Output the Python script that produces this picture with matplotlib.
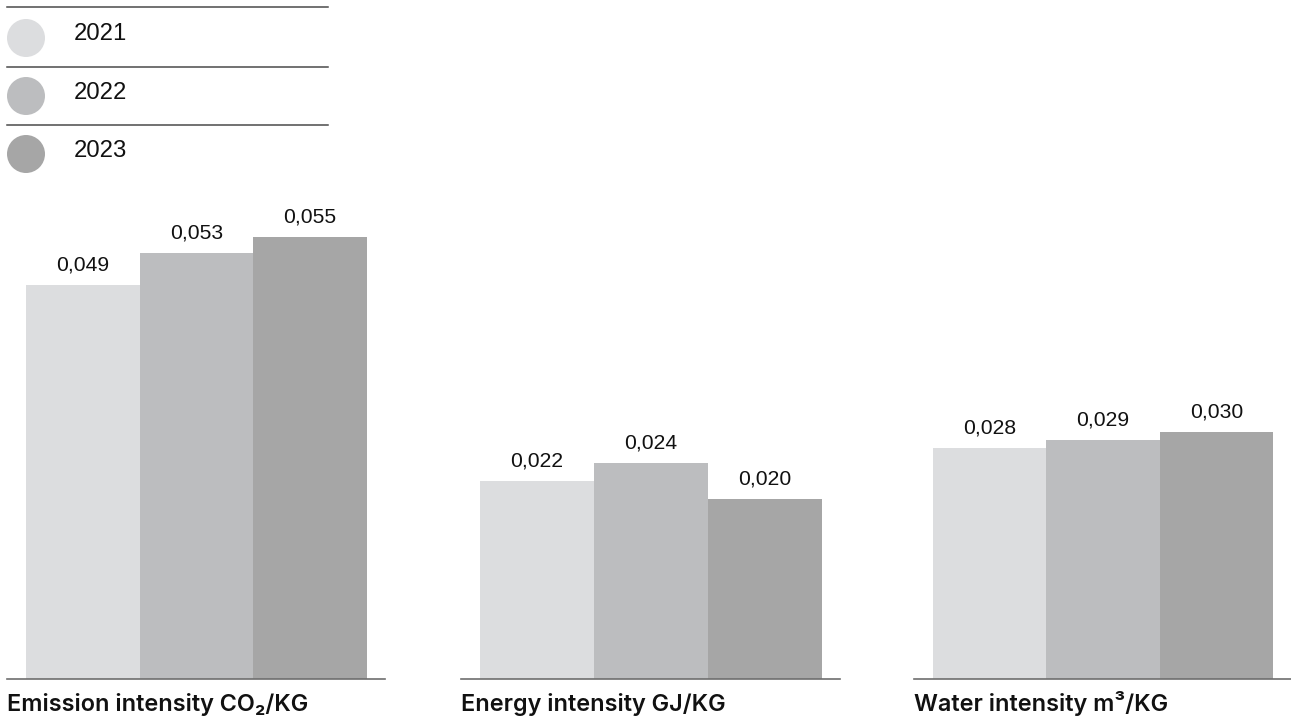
import matplotlib.pyplot as plt
from matplotlib.patches import Circle

# data
years = ["2021", "2022", "2023"]
metrics = ["Emission intensity CO\u2082/KG", "Energy intensity GJ/KG", "Water intensity m\u00b3/KG"]
emission = [0.049, 0.053, 0.055]
energy = [0.022, 0.024, 0.020]
water = [0.028, 0.029, 0.030]
labels = [["0,049", "0,053", "0,055"], ["0,022", "0,024", "0,020"], ["0,028", "0,029", "0,030"]]

colors = ["#dcdddf", "#bcbdbf", "#a6a6a6"]
line_col = "#6e6e6e"
FONT = ["Liberation Sans", "DejaVu Sans"]
TFONT = ["Inter", "DejaVu Sans"]

W, H = 1291, 718
fig = plt.figure(figsize=(W / 100, H / 100), dpi=100)

# panel placement in pixels: left, width, ymax
panels = [(7, 378, 0.0608), (461, 379, 0.0543), (914, 377, 0.0594)]
series = [emission, energy, water]
bottom_px, top_px = 679, 190

for (left, width, ymax), vals, labs, title in zip(panels, series, labels, metrics):
    ax = fig.add_axes([left / W, (H - bottom_px) / H, width / W, (bottom_px - top_px) / H])
    x = range(len(vals))
    ax.bar(x, vals, width=1.0, color=colors, linewidth=0)
    ax.set_xlim(-0.5 - 19 / 113.5, 2.5 + 18 / 113.5)
    ax.set_ylim(0, ymax)
    for s in ["left", "right", "top"]:
        ax.spines[s].set_visible(False)
    ax.spines["bottom"].set_color(line_col)
    ax.spines["bottom"].set_linewidth(1.2)
    ax.set_xticks([])
    ax.set_yticks([])
    ax.patch.set_alpha(0)
    for xi, v, lab in zip(x, vals, labs):
        ax.annotate(lab, (xi, v), xytext=(0, 10.5), textcoords="offset points",
                    ha="center", va="baseline", fontsize=15.2, family=FONT, color="#111111")
    fig.text(left / W, 1 - 711 / H, title, ha="left", va="baseline",
             fontsize=16.9, family=TFONT, weight="semibold", color="#111111")

# legend drawn in a pixel-space overlay
lg = fig.add_axes([0, 0, 1, 1])
lg.set_xlim(0, W)
lg.set_ylim(H, 0)
lg.axis("off")
for y in [7, 67, 125]:
    lg.plot([7, 328], [y, y], color="#4a4a4a", lw=1.1)
circle_y = [38, 96, 154]
text_y = [40, 99, 157]
for yr, c, cy, ty in zip(years, colors, circle_y, text_y):
    lg.add_patch(Circle((26, cy), 19, color=c, lw=0))
    lg.text(74, ty, yr, ha="left", va="baseline", fontsize=17.2, family=FONT, color="#111111")

fig.savefig("out.png", dpi=100)
